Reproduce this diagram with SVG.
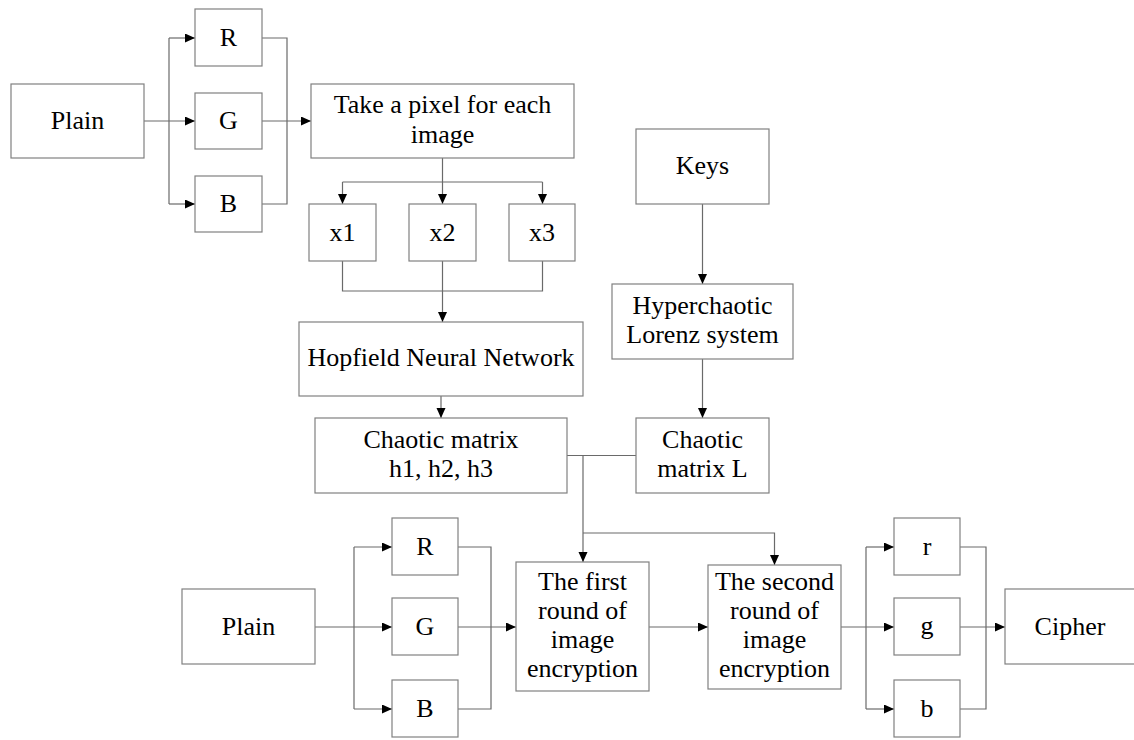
<svg xmlns="http://www.w3.org/2000/svg" width="1134" height="740" viewBox="0 0 1134 740">
<style>
.box{fill:#fff;stroke:#808080;stroke-width:1.2}
.t{font-family:"Liberation Serif","Times New Roman",serif;font-size:26px;fill:#000;text-anchor:middle}
.c{fill:none;stroke:#6a6a6a;stroke-width:1.2}
.a{marker-end:url(#ah)}
</style>
<defs>
<marker id="ah" markerUnits="userSpaceOnUse" markerWidth="11" markerHeight="10" refX="10" refY="4.5" orient="auto">
<path d="M0,0 L10,4.5 L0,9 z" fill="#000"/>
</marker>
</defs>
<rect width="1134" height="740" fill="#fff"/>
<g id="connectors">
<path class="c a" d="M144,121 H195"/>
<path class="c" d="M169,38 V204"/>
<path class="c a" d="M169,38 H195"/>
<path class="c a" d="M169,204 H195"/>
<path class="c" d="M262,38 H287 V204 H262"/>
<path class="c a" d="M262,121 H311"/>
<path class="c a" d="M442.5,158 V204"/>
<path class="c" d="M342.5,182 H542.5"/>
<path class="c a" d="M342.5,182 V204"/>
<path class="c a" d="M542.5,182 V204"/>
<path class="c" d="M342.5,261 V291 H542.5 V261"/>
<path class="c a" d="M442.5,261 V322"/>
<path class="c a" d="M441,396 V418"/>
<path class="c a" d="M702.5,204 V284"/>
<path class="c a" d="M702.5,359 V418"/>
<path class="c" d="M567,455.5 H636"/>
<path class="c a" d="M583,455.5 V562"/>
<path class="c a" d="M583,533 H774.5 V565"/>
<path class="c a" d="M315,627 H392"/>
<path class="c" d="M354,547 V709"/>
<path class="c a" d="M354,547 H392"/>
<path class="c a" d="M354,709 H392"/>
<path class="c" d="M458,547 H491 V709 H458"/>
<path class="c a" d="M458,627 H516"/>
<path class="c a" d="M649,627 H708"/>
<path class="c a" d="M841,627 H894"/>
<path class="c" d="M866,547 V709"/>
<path class="c a" d="M866,547 H894"/>
<path class="c a" d="M866,709 H894"/>
<path class="c" d="M960,547 H986 V709 H960"/>
<path class="c a" d="M960,627 H1005"/>
</g>
<g id="plain1"><rect class="box" x="11" y="84" width="133" height="74"/><text class="t" x="77.5" y="129">Plain</text></g>
<g id="R1"><rect class="box" x="195" y="9" width="67" height="57"/><text class="t" x="228.5" y="46">R</text></g>
<g id="G1"><rect class="box" x="195" y="93" width="67" height="56"/><text class="t" x="228.5" y="129">G</text></g>
<g id="B1"><rect class="box" x="195" y="176" width="67" height="56"/><text class="t" x="228.5" y="212">B</text></g>
<g id="take"><rect class="box" x="311" y="84" width="263" height="74"/><text class="t" x="442.5" y="113">Take a pixel for each</text><text class="t" x="442.5" y="143">image</text></g>
<g id="x1"><rect class="box" x="309" y="204" width="67" height="57"/><text class="t" x="342.5" y="241">x1</text></g>
<g id="x2"><rect class="box" x="409" y="204" width="67" height="57"/><text class="t" x="442.5" y="241">x2</text></g>
<g id="x3"><rect class="box" x="509" y="204" width="66" height="57"/><text class="t" x="542" y="241">x3</text></g>
<g id="hopfield"><rect class="box" x="299" y="322" width="284" height="74"/><text class="t" x="441" y="366">Hopfield Neural Network</text></g>
<g id="chaotic-h"><rect class="box" x="315" y="418" width="252" height="75"/><text class="t" x="441" y="448">Chaotic matrix</text><text class="t" x="441" y="477">h1, h2, h3</text></g>
<g id="keys"><rect class="box" x="636" y="129" width="133" height="75"/><text class="t" x="702.5" y="174">Keys</text></g>
<g id="hyper"><rect class="box" x="612" y="284" width="181" height="75"/><text class="t" x="702.5" y="314">Hyperchaotic</text><text class="t" x="702.5" y="343">Lorenz system</text></g>
<g id="chaotic-L"><rect class="box" x="636" y="418" width="133" height="75"/><text class="t" x="702.5" y="448">Chaotic</text><text class="t" x="702.5" y="477">matrix L</text></g>
<g id="plain2"><rect class="box" x="182" y="589" width="133" height="75"/><text class="t" x="248.5" y="635">Plain</text></g>
<g id="R2"><rect class="box" x="392" y="518" width="66" height="57"/><text class="t" x="425" y="555">R</text></g>
<g id="G2"><rect class="box" x="392" y="598" width="66" height="57"/><text class="t" x="425" y="635">G</text></g>
<g id="B2"><rect class="box" x="392" y="680" width="66" height="57"/><text class="t" x="425" y="717">B</text></g>
<g id="first"><rect class="box" x="516" y="562" width="133" height="129"/><text class="t" x="582.5" y="590">The first</text><text class="t" x="582.5" y="619">round of</text><text class="t" x="582.5" y="648">image</text><text class="t" x="582.5" y="677">encryption</text></g>
<g id="second"><rect class="box" x="708" y="565" width="133" height="124"/><text class="t" x="774.5" y="590">The second</text><text class="t" x="774.5" y="619">round of</text><text class="t" x="774.5" y="648">image</text><text class="t" x="774.5" y="677">encryption</text></g>
<g id="r"><rect class="box" x="894" y="518" width="66" height="57"/><text class="t" x="927" y="555">r</text></g>
<g id="g"><rect class="box" x="894" y="598" width="66" height="57"/><text class="t" x="927" y="634">g</text></g>
<g id="b"><rect class="box" x="894" y="680" width="66" height="57"/><text class="t" x="927" y="717">b</text></g>
<g id="cipher"><rect class="box" x="1005" y="589" width="135" height="75"/><text class="t" x="1070" y="635">Cipher</text></g>
</svg>
